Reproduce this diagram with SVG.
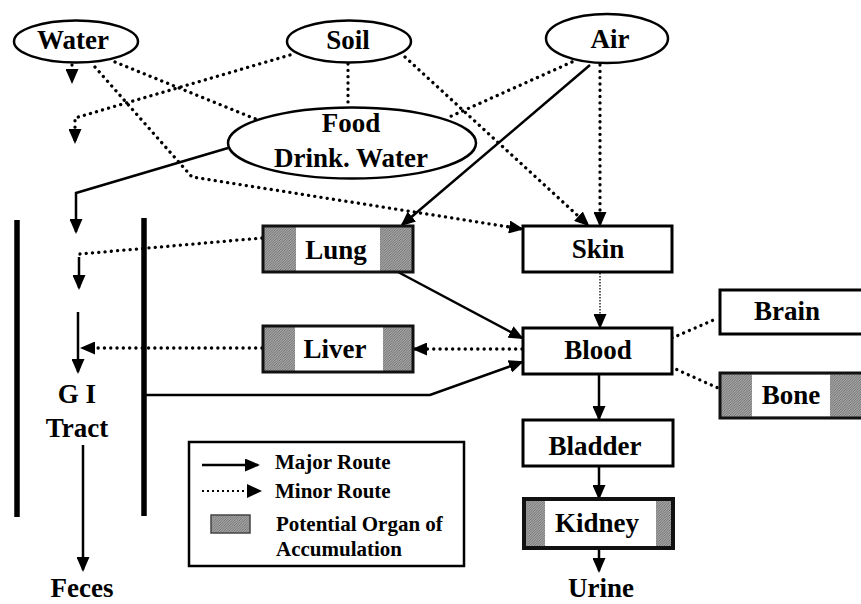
<svg xmlns="http://www.w3.org/2000/svg" width="861" height="604" viewBox="0 0 861 604">
<defs>
<pattern id="hatch" patternUnits="userSpaceOnUse" width="2.5" height="2.5">
<rect width="2.5" height="2.5" fill="#a6a6a6"/>
<path d="M0,2.5 L2.5,0 M-1,1 L1,-1 M1.5,3.5 L3.5,1.5" stroke="#666" stroke-width="0.8"/>
</pattern>
<marker id="ah" markerUnits="userSpaceOnUse" markerWidth="15" markerHeight="13" refX="13" refY="6.5" orient="auto">
<path d="M0,0 L15,6.5 L0,13 z" fill="#000"/>
</marker>
<style>
.t{font-family:"Liberation Serif","Times New Roman",serif;font-weight:bold;font-size:27px;text-anchor:middle;fill:#000}
.lg{font-family:"Liberation Serif","Times New Roman",serif;font-weight:bold;font-size:21px;fill:#000}
.solid{stroke:#000;stroke-width:2.5;fill:none}
.dot{stroke:#000;stroke-width:3.3;stroke-dasharray:0.1 6.2;stroke-linecap:round;fill:none}
.fine{stroke:#000;stroke-width:1.3;stroke-dasharray:1.5 1.5;fill:none}
.box{fill:#fff;stroke:#000;stroke-width:3}
.frame{fill:none;stroke:#111;stroke-width:3}
.ell{fill:#fff;stroke:#000;stroke-width:2.5}
.bar{stroke:#000;stroke-width:5.5}
</style>
</defs>
<rect width="861" height="604" fill="#fff"/>

<g id="connectors">
<path class="dot" d="M72,65 L72,82" marker-end="url(#ah)"/>
<path class="dot" d="M290,55 L75,118 L75,142" marker-end="url(#ah)"/>
<path class="dot" d="M115,62 L258,120"/>
<path class="dot" d="M95,67 L192,177 L522,229" marker-end="url(#ah)"/>
<path class="dot" d="M348,64 L348,108"/>
<path class="dot" d="M405,57 L588,225" marker-end="url(#ah)"/>
<path class="dot" d="M572,62 L447,118"/>
<path class="solid" d="M590,65 L402,225" marker-end="url(#ah)"/>
<path class="dot" d="M600,65 L600,225" marker-end="url(#ah)"/>
<path class="solid" d="M228,148 L76,193 L76,232" marker-end="url(#ah)"/>
<path class="dot" d="M262,238 L80,254"/>
<path class="solid" d="M79,257 L79,288" marker-end="url(#ah)"/>
<path class="solid" d="M78,312 L78,372" marker-end="url(#ah)"/>
<path class="dot" d="M262,348 L82,348" marker-end="url(#ah)"/>
<path class="dot" d="M522,349 L414,349" marker-end="url(#ah)"/>
<path class="solid" d="M143,395 L430,395 L522,362" marker-end="url(#ah)"/>
<path class="solid" d="M398,272 L522,338" marker-end="url(#ah)"/>
<path class="fine" d="M600,273 L600,327" marker-end="url(#ah)"/>
<path class="dot" d="M672,338 L718,318"/>
<path class="dot" d="M671,367 L718,388"/>
<path class="solid" d="M599,375 L599,419" marker-end="url(#ah)"/>
<path class="solid" d="M599,467 L599,498" marker-end="url(#ah)"/>
<path class="solid" d="M599,549 L599,571" marker-end="url(#ah)"/>
<path class="solid" d="M83,445 L83,570" marker-end="url(#ah)"/>
</g>

<g id="water">
<ellipse class="ell" cx="76" cy="41.5" rx="62" ry="21"/>
<text class="t" x="73" y="49">Water</text>
</g>
<g id="soil">
<ellipse class="ell" cx="349" cy="41.5" rx="62" ry="21"/>
<text class="t" x="348" y="49">Soil</text>
</g>
<g id="air">
<ellipse class="ell" cx="607" cy="38.5" rx="61" ry="24.5"/>
<text class="t" x="610" y="48">Air</text>
</g>
<g id="food">
<ellipse class="ell" cx="352" cy="143" rx="124" ry="35.5"/>
<text class="t" x="351" y="132">Food</text>
<text class="t" x="351" y="167">Drink. Water</text>
</g>

<g id="lung">
<rect x="263" y="226" width="150" height="46" fill="url(#hatch)"/>
<rect x="296" y="227" width="84" height="44" fill="#fff"/>
<rect class="frame" x="263" y="226" width="150" height="46"/>
<text class="t" x="336" y="259">Lung</text>
</g>
<g id="liver">
<rect x="263" y="326" width="150" height="46" fill="url(#hatch)"/>
<rect x="295" y="327" width="88" height="44" fill="#fff"/>
<rect class="frame" x="263" y="326" width="150" height="46"/>
<text class="t" x="335" y="358">Liver</text>
</g>
<g id="skin">
<rect class="box" x="523" y="226" width="149" height="46"/>
<text class="t" x="598" y="258">Skin</text>
</g>
<g id="blood">
<rect class="box" x="523" y="328" width="149" height="46"/>
<text class="t" x="598" y="359">Blood</text>
</g>
<g id="brain">
<rect class="box" x="720" y="290" width="160" height="44"/>
<text class="t" x="787" y="320">Brain</text>
</g>
<g id="bone">
<rect x="720" y="373" width="160" height="45" fill="url(#hatch)"/>
<rect x="752" y="374.5" width="78" height="42" fill="#fff"/>
<rect class="frame" x="720" y="373" width="160" height="45"/>
<text class="t" x="791" y="404">Bone</text>
</g>
<g id="bladder">
<rect class="box" x="523" y="420" width="150" height="46"/>
<text class="t" x="595" y="455">Bladder</text>
</g>
<g id="kidney">
<rect x="524" y="499" width="149" height="49" fill="url(#hatch)"/>
<rect x="545" y="501" width="111" height="45" fill="#fff"/>
<rect x="524" y="499" width="149" height="49" fill="none" stroke="#111" stroke-width="4"/>
<text class="t" x="597" y="532">Kidney</text>
</g>
<g id="urine">
<text class="t" x="601" y="597">Urine</text>
</g>
<g id="gi-tract">
<line class="bar" x1="17" y1="220" x2="17" y2="517"/>
<line class="bar" x1="144" y1="218" x2="144" y2="516"/>
<text class="t" x="77" y="403">G I</text>
<text class="t" x="77" y="437">Tract</text>
</g>
<g id="feces">
<text class="t" x="82" y="597">Feces</text>
</g>

<g id="legend">
<rect x="189" y="442" width="275" height="124" fill="#fff" stroke="#000" stroke-width="2.5"/>
<path class="solid" d="M202,465 L258,465" marker-end="url(#ah)"/>
<path d="M202,491 L249,491" stroke="#000" stroke-width="2" stroke-dasharray="2 3" fill="none"/>
<path d="M247,484 L262,491 L247,498 z" fill="#000"/>
<rect x="211" y="515" width="39" height="18" fill="url(#hatch)" stroke="#444" stroke-width="1.5"/>
<text class="lg" x="275" y="469">Major Route</text>
<text class="lg" x="275" y="498">Minor Route</text>
<text class="lg" x="276" y="531">Potential Organ of</text>
<text class="lg" x="276" y="556">Accumulation</text>
</g>
</svg>
